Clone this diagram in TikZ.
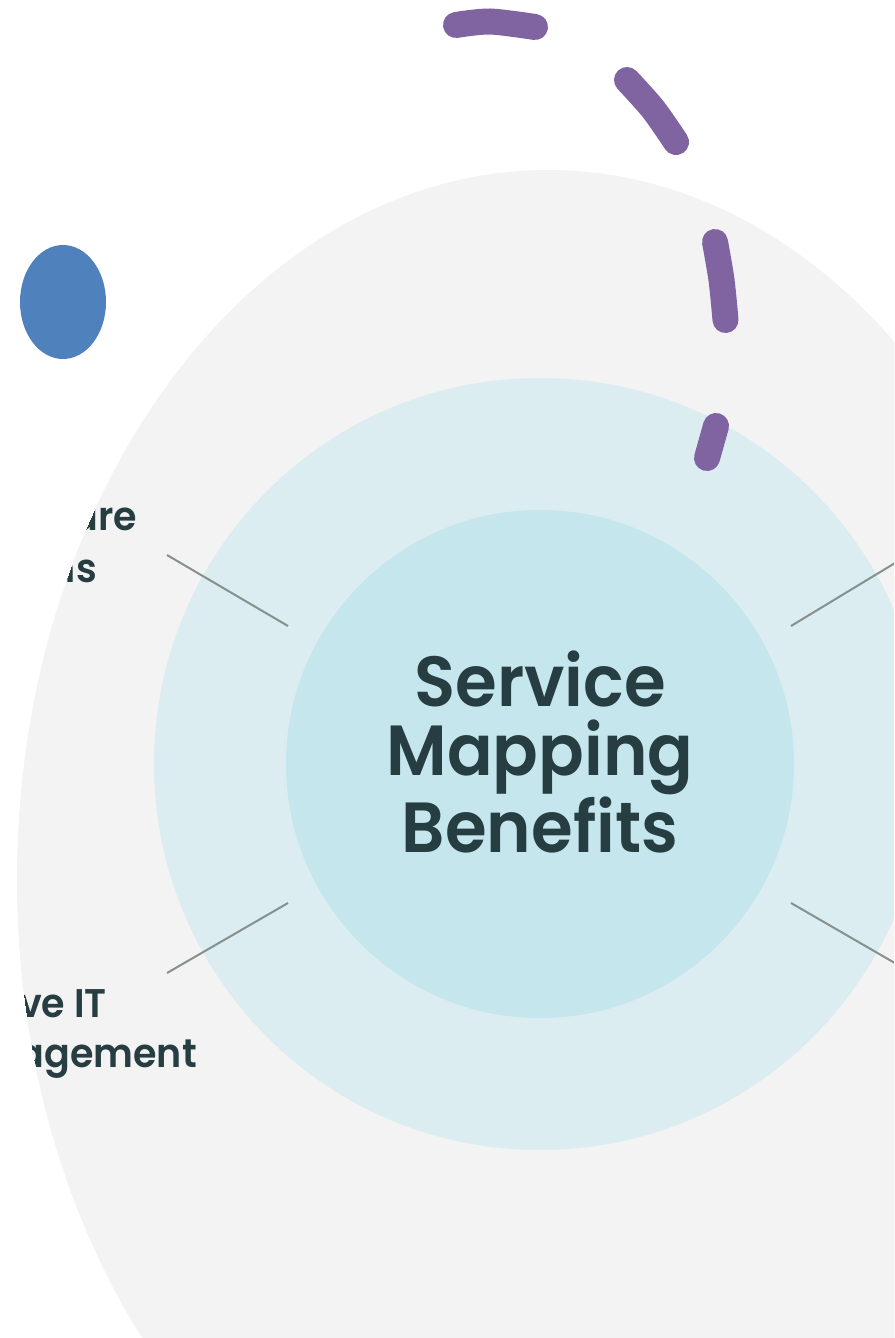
\documentclass[tikz,border=0pt]{standalone}
\usepackage{fontspec}
\setmainfont{Poppins}
\newfontfamily\titlefont{Poppins SemiBold}[FakeStretch=0.95]
\newfontfamily\labelfont{Poppins SemiBold}[FakeStretch=0.95]
\definecolor{graybg}{HTML}{F3F3F3}
\definecolor{midblue}{HTML}{DBEDF1}
\definecolor{innerblue}{HTML}{C5E6ED}
\definecolor{dotblue}{HTML}{4F81BD}
\definecolor{arcpurple}{HTML}{8064A2}
\definecolor{leadgray}{HTML}{85908F}
\definecolor{inkteal}{HTML}{263D42}
\tikzset{
  leader/.style={draw=leadgray, line width=2pt},
  dashseg/.style={draw=arcpurple, line width=26pt, line cap=round},
  sidelabel/.style={inner sep=0pt, anchor=base east, text=inkteal, font=\labelfont\fontsize{40}{48}\selectfont},
  titletext/.style={inner sep=0pt, align=center, text=inkteal, font=\titlefont\fontsize{71}{69.5}\selectfont}
}
\begin{document}
\begin{tikzpicture}[x=1pt,y=-1pt]
\useasboundingbox (0,0) rectangle (894,1338);
\clip (0,0) rectangle (894,1338);
% background shapes
\fill[graybg] (548,880) ellipse [x radius=531, y radius=710];
\fill[midblue] (540,764) ellipse [x radius=386, y radius=386];
\fill[innerblue] (540,764) ellipse [x radius=254, y radius=254];
\fill[dotblue] (63,302) ellipse [x radius=43, y radius=57];
% leader lines
\coordinate (lu1) at (167,555); \coordinate (lu2) at (288,626);
\coordinate (ll1) at (167,973); \coordinate (ll2) at (288,903);
\coordinate (ru1) at (791,626); \coordinate (ru2) at (900,560);
\coordinate (rl1) at (791,903); \coordinate (rl2) at (900,966);
\draw[leader] (lu1) -- (lu2);
\draw[leader] (ll1) -- (ll2);
\draw[leader] (ru1) -- (ru2);
\draw[leader] (rl1) -- (rl2);
% side labels (clipped by the grey ellipse)
\begin{scope}
\clip (548,880) ellipse [x radius=531, y radius=710];
\node[sidelabel] (la) at (137,530) {are};
\node[sidelabel] (lb) at (97,582) {ns};
\node[sidelabel] (lc) at (107,1017) {ve IT};
\node[sidelabel] (ld) at (197,1067) {agement};
\end{scope}
% title
\node[titletext, anchor=base] (title) at (540,852) {Service\\Mapping\\Benefits};
% purple dashed arc
\draw[dashseg] plot[smooth] coordinates {(456,25) (490,21.5) (535,27)};
\draw[dashseg] plot[smooth] coordinates {(627,80) (653,109) (676,142)};
\draw[dashseg] plot[smooth] coordinates {(715,242) (721.5,280) (725.5,320)};
\draw[dashseg] (716,426) -- (707,458);
\end{tikzpicture}
\end{document}
